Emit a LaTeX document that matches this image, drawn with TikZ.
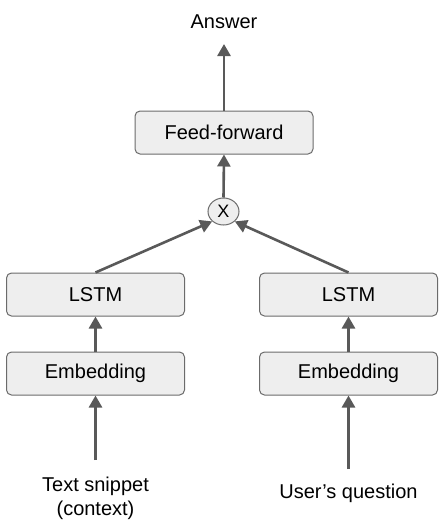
\documentclass[tikz,border=0pt]{standalone}
\usepackage{fontspec}
\setmainfont{Liberation Sans}
\usetikzlibrary{arrows.meta,shapes.geometric}
\definecolor{linegray}{HTML}{595959}
\definecolor{boxfill}{HTML}{EEEEEE}
\definecolor{boxdraw}{HTML}{6B6B6B}
\begin{document}
\begin{tikzpicture}[x=1pt,y=-1pt,
  every node/.style={font=\fontsize{20}{23.5}\selectfont, text=black},
  blockbox/.style={draw=boxdraw, fill=boxfill, line width=1pt, rounded corners=5pt,
     minimum width=178pt, minimum height=43pt, inner sep=0pt},
  mulnode/.style={draw=boxdraw, fill=boxfill, line width=1pt, ellipse, minimum width=31pt, minimum height=27pt, inner sep=0pt, font=\fontsize{18}{20}\selectfont},
  flow/.style={draw=linegray, line width=2.6pt, -{Triangle[length=12pt,width=13pt]}},
  lbl/.style={inner sep=0pt, align=center}]
\useasboundingbox (0,0) rectangle (447,528);
\node[blockbox] (ff) at (224,132.5) {Feed-forward};
\node[mulnode] (mul) at (223.5,211.5) {X};
\node[blockbox] (lstml) at (95.5,294.5) {LSTM};
\node[blockbox] (embl) at (95.5,373.5) {Embedding};
\node[blockbox] (lstmr) at (348.5,294.5) {LSTM};
\node[blockbox] (embr) at (348.5,373.5) {Embedding};
\node[lbl] (ans) at (224,22) {Answer};
\node[lbl] (txt) at (95.5,498.5) {Text snippet\\(context)};
\node[lbl] (uq) at (348.5,493) {User’s question};
\coordinate (ansb) at (224,44);
\coordinate (txtt) at (95.5,460);
\coordinate (uqt) at (348.5,469);
\draw[flow] (ff.north) -- (ansb);
\draw[flow] (mul.north) -- (ff.south);
\draw[flow] (lstml.north) -- (mul.south west);
\draw[flow] (lstmr.north) -- (mul.south east);
\draw[flow] (embl.north) -- (lstml.south);
\draw[flow] (embr.north) -- (lstmr.south);
\draw[flow] (txtt) -- (embl.south);
\draw[flow] (uqt) -- (embr.south);
\end{tikzpicture}
\end{document}
